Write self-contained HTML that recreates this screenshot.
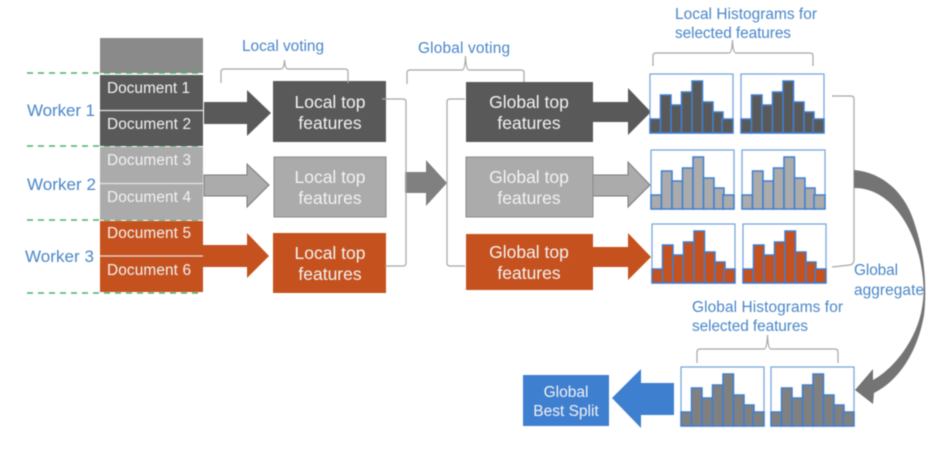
<!DOCTYPE html>
<html><head><meta charset="utf-8"><style>
html,body{margin:0;padding:0;background:#fff;width:934px;height:466px;overflow:hidden}
svg{display:block;filter:blur(.5px)}
text{font-family:"Liberation Sans",sans-serif}
.b{fill:#4a86c8;font-size:15.4px}
.w{fill:#4a86c8;font-size:17px}
.d{fill:#f2f2f2;font-size:15.4px}
.t{fill:#f2f2f2;font-size:17.5px;text-anchor:middle}
.br{fill:none;stroke:#a6a6a6;stroke-width:1.2}
</style></head><body>
<svg width="934" height="466" viewBox="0 0 934 466" xmlns="http://www.w3.org/2000/svg">
<defs>
<g id="h">
<rect x="0" y="0" width="83" height="59" fill="#fff" stroke="#6fa3dc" stroke-width="1.2"/>
<g stroke="#3f7fd0" stroke-width="1.5">
<rect x="0" y="45" width="10.500" height="14"/><rect x="10.500" y="21" width="10.500" height="38"/><rect x="21" y="31" width="10.500" height="28"/><rect x="31.500" y="18" width="10.500" height="41"/><rect x="42" y="7" width="10.500" height="52"/><rect x="52.500" y="28" width="10.500" height="31"/><rect x="63" y="38" width="10" height="21"/><rect x="72" y="45" width="11" height="14"/>
</g>
</g>
</defs>
<rect x="100" y="38" width="103" height="35" fill="#8a8a8a"/>
<g stroke="#4caf6e" stroke-width="1.4" stroke-dasharray="6 5"><path d="M27 73H203M27 146H203M27 220H203M27 293H203"/></g>
<rect x="100" y="75" width="103" height="71" fill="#595959"/>
<rect x="100" y="147" width="103" height="73" fill="#ababab"/>
<rect x="100" y="221" width="103" height="71" fill="#c5511e"/>
<path d="M100 110.500H203M100 183.500H203M100 256H203" stroke="#e4e4e4" stroke-width="1.2"/>
<text class="d" x="107" y="93" textLength="83">Document 1</text>
<text class="d" x="107" y="129" textLength="84">Document 2</text>
<text class="d" x="107" y="165" textLength="84">Document 3</text>
<text class="d" x="107" y="202" textLength="84">Document 4</text>
<text class="d" x="107" y="238" textLength="84">Document 5</text>
<text class="d" x="107" y="275" textLength="84">Document 6</text>
<text class="w" x="27" y="116" textLength="68">Worker 1</text>
<text class="w" x="27" y="190" textLength="69">Worker 2</text>
<text class="w" x="25" y="262" textLength="69">Worker 3</text>
<text class="b" x="242" y="51" textLength="82">Local voting</text>
<text class="b" x="418" y="53" textLength="92">Global voting</text>
<text class="b" x="675" y="19" textLength="142">Local Histograms for</text>
<text class="b" x="675" y="38" textLength="116">selected features</text>
<text class="b" x="854" y="275" textLength="44">Global</text>
<text class="b" x="854" y="295" textLength="70">aggregate</text>
<text class="b" x="692" y="312" textLength="151">Global Histograms for</text>
<text class="b" x="692" y="331" textLength="116">selected features</text>
<!-- arrows -->
<path d="M204 102H247V90L271 113L247 136V124H204Z" fill="#595959"/>
<path d="M204 175H247V164L269 185L247 207V196H204Z" fill="#ababab" stroke="#7a7a7a"/>
<path d="M203 245H247V233L269 256L247 278V267H203Z" fill="#c5511e"/>
<path d="M405 172H426V160L447 183L426 206V193H405Z" fill="#808080"/>
<path d="M593 102H628V88L651 112L628 135V122H593Z" fill="#595959"/>
<path d="M593 175H628V162L650 185L628 207V196H593Z" fill="#ababab" stroke="#7a7a7a"/>
<path d="M593 247H628V233L651 257L628 280V267H593Z" fill="#c5511e"/>
<path d="M674 383H641V369L612 398L641 428V415H674Z" fill="#3f7fd0"/>
<!-- boxes -->
<rect x="273" y="81" width="113" height="61" fill="#595959"/>
<rect x="274" y="157" width="112" height="60" fill="#ababab" stroke="#8a8a8a"/>
<rect x="273" y="233" width="113" height="60" fill="#c5511e"/>
<rect x="466" y="82" width="127" height="60" fill="#595959"/>
<rect x="466" y="157" width="127" height="60" fill="#ababab" stroke="#8a8a8a"/>
<rect x="466" y="234" width="127" height="56" fill="#c5511e"/>
<rect x="523" y="375" width="86" height="51" fill="#3f7fd0"/>
<text class="t" x="330" y="108">Local top</text><text class="t" x="330" y="129">features</text>
<text class="t" x="330" y="183">Local top</text><text class="t" x="330" y="204">features</text>
<text class="t" x="330" y="259">Local top</text><text class="t" x="330" y="280">features</text>
<text class="t" x="529" y="108">Global top</text><text class="t" x="529" y="129">features</text>
<text class="t" x="529" y="183">Global top</text><text class="t" x="529" y="204">features</text>
<text class="t" x="529" y="258">Global top</text><text class="t" x="529" y="279">features</text>
<text x="566" y="397" text-anchor="middle" style="font-size:15.500px;fill:#f2f2f2">Global</text>
<text x="566" y="416" text-anchor="middle" style="font-size:15.500px;fill:#f2f2f2">Best Split</text>
<!-- histograms -->
<use href="#h" x="650" y="74" fill="#595959"/><use href="#h" x="741" y="74" fill="#595959"/>
<use href="#h" x="651" y="150" fill="#ababab"/><use href="#h" x="742" y="150" fill="#ababab"/>
<use href="#h" x="652" y="224" fill="#c5511e"/><use href="#h" x="743" y="224" fill="#c5511e"/>
<use href="#h" x="681" y="367" fill="#808080"/><use href="#h" x="771" y="367" fill="#808080"/>
<!-- brackets -->
<path class="br" d="M221 83V72Q221 69 224 69H281Q284 69 284.500 60Q285 69 288 69H345Q348 69 348 72V83"/>
<path class="br" d="M407 84V73Q407 70 410 70H462Q465 70 465.500 56Q466 70 469 70H521Q524 70 524 73V82"/>
<path class="br" d="M653 66V56Q653 53 656 53H729Q732 53 732.500 40Q733 53 736 53H810Q813 53 813 56V66"/>
<path class="br" d="M697 363V352Q697 349 700 349H764Q767 349 767.500 335Q768 349 771 349H835Q838 349 838 352V363"/>
<path class="br" d="M382 99H403Q406 99 406 102V263Q406 266 403 266H385"/>
<path class="br" d="M465 99H450Q447 99 447 102V263Q447 266 450 266H465"/>
<path class="br" d="M832 96H851Q854 96 854 99V260Q854 264 850 265L832 267"/>
<!-- curved arrow -->
<path d="M854 170C880 172 905 190 915 225C925 255 927 290 924 315C918 350 900 380 874 393L873 404L855 390L873 369L873 380C895 368 915 340 921 313C925 295 924 280 920 260C912 225 890 188 854 188Z" fill="#747474"/>
</svg>
</body></html>
